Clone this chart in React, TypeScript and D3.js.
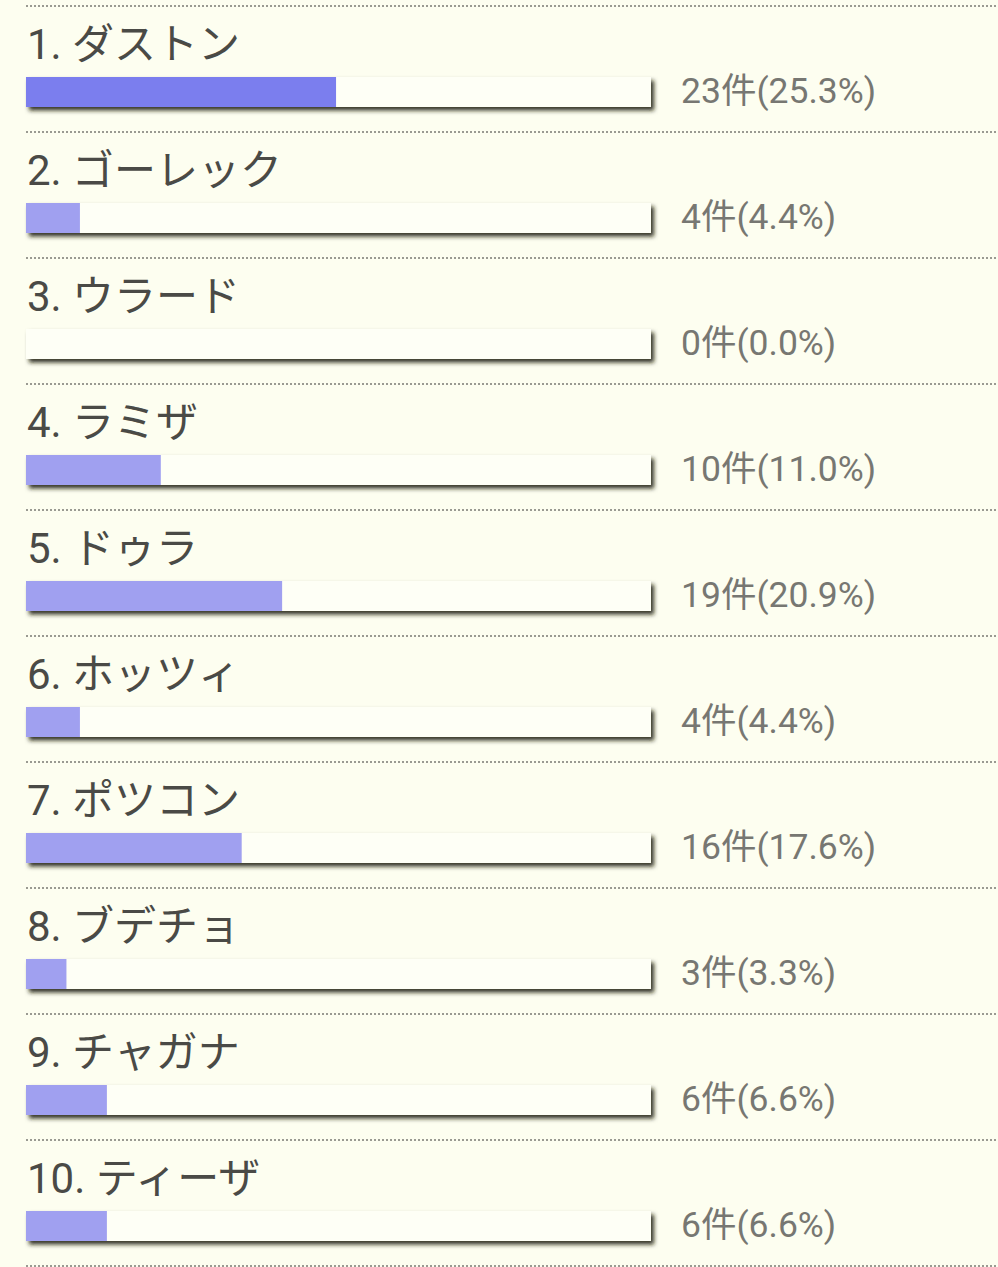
import React from "react";
import * as d3 from "d3";

const names = ["ダストン", "ゴーレック", "ウラード", "ラミザ", "ドゥラ", "ホッツィ", "ポツコン", "ブデチョ", "チャガナ", "ティーザ"];
const counts = [23, 4, 0, 10, 19, 4, 16, 3, 6, 6];
const percents = [25.3, 4.4, 0.0, 11.0, 20.9, 4.4, 17.6, 3.3, 6.6, 6.6];
const percentMax = 51;

const W = 998;
const H = 1267;

export default function App() {
  const rowH = 126;
  const y0 = 6;
  const x = d3.scaleLinear().domain([0, percentMax]).range([26, 651]);
  const rows = d3.range(names.length);
  const lines = d3.range(names.length + 1);
  const font = "Roboto, 'Noto Sans CJK JP', sans-serif";
  return (
    <svg
      width={W}
      height={H}
      style={{ position: "absolute", left: 0, top: 0, background: "#fdfef0" }}
    >
      <defs>
        <filter id="sh" x="-5%" y="-50%" width="110%" height="220%">
          <feDropShadow dx="3" dy="3.5" stdDeviation="2" floodColor="#1a1a10" floodOpacity="0.9" />
        </filter>
      </defs>
      <rect x={0} y={0} width={W} height={H} fill="#fdfef0" />
      {lines.map((i) => (
        <line
          key={"l" + i}
          x1={26}
          x2={W}
          y1={y0 + i * rowH}
          y2={y0 + i * rowH}
          stroke="#9a9a92"
          strokeWidth={2}
          strokeDasharray="2,2"
        />
      ))}
      {rows.map((i) => {
        const top = y0 + i * rowH;
        const full = x.domain()[1];
        return (
          <g key={"r" + i}>
            <text x={27} y={top + 53} fontFamily={font} fontSize={42} fill="#4a4a46">
              {`${i + 1}. ${names[i]}`}
            </text>
            <rect
              x={x(0)}
              y={top + 71}
              width={x(full) - x(0)}
              height={30}
              fill="#fefff6"
              filter="url(#sh)"
            />
            <rect
              x={x(0)}
              y={top + 71}
              width={x(percents[i]) - x(0)}
              height={30}
              fill={i === 0 ? "#7b7eee" : "#a0a0f0"}
            />
            <text x={681} y={top + 97} fontFamily={font} fontSize={35.5} fill="#777772">
              {`${counts[i]}件(${percents[i].toFixed(1)}%)`}
            </text>
          </g>
        );
      })}
    </svg>
  );
}
